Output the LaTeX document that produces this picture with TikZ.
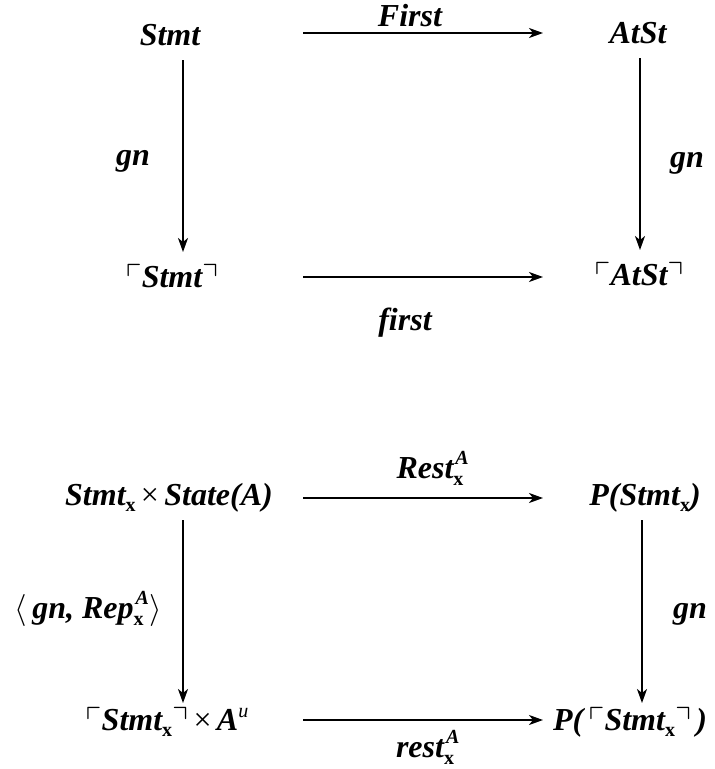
\documentclass[tikz,border=0pt]{standalone}
\usepackage{fix-cm}
\usepackage{amsmath,amssymb}
\usepackage{fontspec}
\setmainfont{Liberation Serif}
\usetikzlibrary{arrows.meta}
\tikzset{
  lbl/.style={font=\fontsize{32}{38}\selectfont\bfseries\itshape, inner sep=0pt, anchor=base},
  arr/.style={line width=1.8pt, -{Stealth[length=14pt,width=10pt,inset=4pt]}},
}
\newcommand{\SmX}{\raisebox{-6pt}{\fontsize{20}{20}\selectfont\upshape x}}
\newcommand{\AX}{\rlap{\kern2pt\raisebox{14pt}{\fontsize{20}{20}\selectfont A}}\raisebox{-7pt}{\fontsize{20}{20}\selectfont\upshape x}}
\newcommand{\cornL}{\raisebox{1pt}{$\ulcorner$}}
\newcommand{\cornR}{\raisebox{1pt}{$\urcorner$}}
\newcommand{\tms}{{\upshape\mdseries\,×\,}}
\begin{document}
\begin{tikzpicture}[x=1pt,y=-1pt]
\useasboundingbox (0,0) rectangle (715,769);
% ---- diagram 1 ----
\node[lbl] (stmt) at (170,45) {Stmt};
\node[lbl] (atst) at (638,43) {AtSt};
\node[lbl] (cstmt) at (172,287) {\cornL Stmt\cornR};
\node[lbl] (catst) at (639,285) {\cornL AtSt\cornR};
\node[lbl] (First) at (410,26) {First};
\node[lbl] (first) at (405,330) {first};
\node[lbl] (gnL) at (133,165) {gn};
\node[lbl] (gnR) at (687,167) {gn};
\coordinate (t1s) at (303,33); \coordinate (t1e) at (543,33);
\coordinate (b1s) at (303,277); \coordinate (b1e) at (543,277);
\coordinate (l1s) at (183,60); \coordinate (l1e) at (183,252);
\coordinate (r1s) at (640,58); \coordinate (r1e) at (640,250);
\draw[arr] (t1s) -- (t1e);
\draw[arr] (b1s) -- (b1e);
\draw[arr] (l1s) -- (l1e);
\draw[arr] (r1s) -- (r1e);
% ---- diagram 2 ----
\node[lbl] (sxs) at (169,505) {Stmt\SmX\tms State(A)};
\node[lbl] (pst) at (645,505) {P(Stmt\SmX)};
\node[lbl] (csx) at (167,730) {\cornL Stmt\SmX\cornR\tms A\raisebox{13pt}{\fontsize{20}{20}\selectfont\mdseries u}};
\node[lbl] (pcs) at (630,730) {P(\,\cornL Stmt\SmX\cornR\,)};
\node[lbl] (Rest) at (430,478) {Rest\AX};
\node[lbl] (rest) at (425,757) {rest\AX};
\node[lbl] (gnRep) at (88,618) {{\upshape\mdseries$\langle$}\,gn, Rep\AX\,{\upshape\mdseries$\rangle$}};
\node[lbl] (gnR2) at (690,618) {gn};
\coordinate (t2s) at (303,498); \coordinate (t2e) at (543,498);
\coordinate (b2s) at (303,720); \coordinate (b2e) at (543,720);
\coordinate (l2s) at (183,520); \coordinate (l2e) at (183,703);
\coordinate (r2s) at (642,520); \coordinate (r2e) at (642,703);
\draw[arr] (t2s) -- (t2e);
\draw[arr] (b2s) -- (b2e);
\draw[arr] (l2s) -- (l2e);
\draw[arr] (r2s) -- (r2e);
\end{tikzpicture}
\end{document}
